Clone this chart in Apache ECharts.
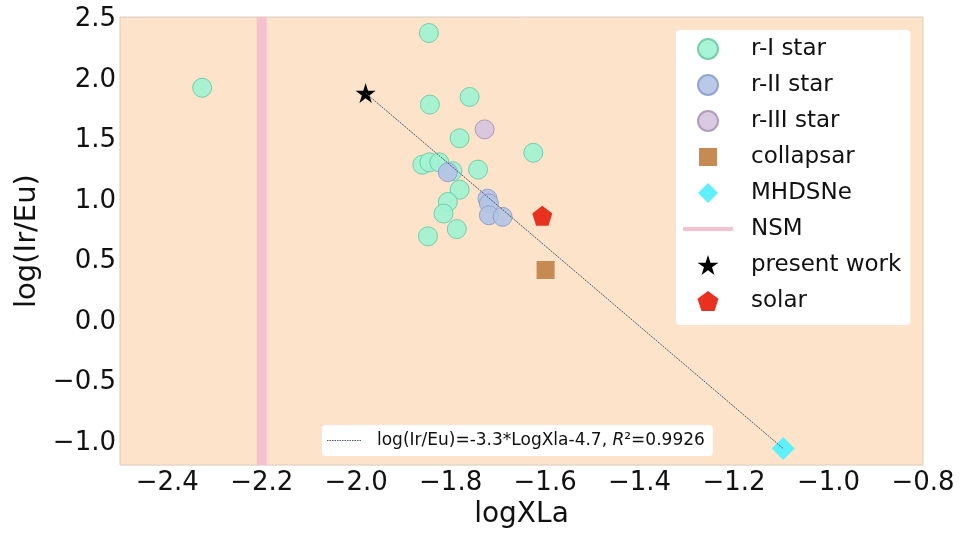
<!DOCTYPE html>
<html>
<head>
<meta charset="utf-8">
<script src="https://cdn.jsdelivr.net/npm/echarts@6/dist/echarts.min.js"></script>
<style>html,body{margin:0;padding:0;background:#fff}#c{width:960px;height:534px}</style>
</head>
<body>
<div id="c"></div>
<script>
// ---- data ----
const rI_x = [-2.326, -1.846, -1.844, -1.760, -1.781, -1.625, -1.742, -1.860, -1.845, -1.824, -1.796, -1.781, -1.806, -1.815, -1.787, -1.848];
const rI_y = [1.936, 2.388, 1.797, 1.860, 1.519, 1.399, 1.260, 1.300, 1.320, 1.320, 1.247, 1.094, 0.993, 0.897, 0.769, 0.709];
const rII_x = [-1.806, -1.722, -1.719, -1.719, -1.690];
const rII_y = [1.238, 1.020, 0.980, 0.883, 0.870];
const rIII_x = [-1.728];
const rIII_y = [1.592];
const collapsar_x = [-1.599];
const collapsar_y = [0.431];
const mhd_x = [-1.096];
const mhd_y = [-1.043];
const nsm_x = -2.2;
const present_x = [-1.980];
const present_y = [1.892];
const solar_x = [-1.606];
const solar_y = [0.879];
const fit_x = [-1.980, -1.096];
const fit_y = [1.892, -1.043];
const xRange = [-2.5, -0.8];
const yRange = [-1.18, 2.52];
const seriesNames = ['r-I star', 'r-II star', 'r-III star', 'collapsar', 'MHDSNe', 'NSM', 'present work', 'solar'];
const fitLabel = 'log(Ir/Eu)=-3.3*LogXla-4.7, R²=0.9926';

const zip = (xs, ys) => xs.map((x, i) => [x, ys[i]]);
const STAR = 'path://M0,-1 L0.2245,-0.309 L0.951,-0.309 L0.363,0.118 L0.588,0.809 L0,0.382 L-0.588,0.809 L-0.363,0.118 L-0.951,-0.309 L-0.2245,-0.309 Z';
const PENT = 'path://M0,-1 L0.951,-0.309 L0.588,0.809 L-0.588,0.809 L-0.951,-0.309 Z';
// legend icons padded to the 50x20 legend cell so they are not stretched
const ICON_SQ = 'path://M0,0 M50,20 M16,1 H34 V19 H16 Z';
const ICON_DIA = 'path://M0,0 M50,20 M25,-1 L36,10 L25,21 L14,10 Z';
const ICON_LINE = 'path://M0,0 M50,20 M0,8 H50 V12 H0 Z';
let dash = 'path://M0,0 M35,16';
for (let i = 0; i < 35; i += 2.5) dash += ' M' + i + ',7.5 H' + (i + 1.5) + ' V8.5 H' + i + ' Z';
const ICON_FIT = dash;
const FONT = 'DejaVu Sans';
const fmt = v => (Math.round(v * 10) / 10).toFixed(1).replace('-', '\u2212');

const chart = echarts.init(document.getElementById('c'));
chart.setOption({
  animation: false,
  backgroundColor: '#fff',
  grid: { left: 120, right: 37, top: 17, bottom: 65, show: true, backgroundColor: '#fce3c9', borderColor: '#d9cdbd', borderWidth: 1 },
  xAxis: {
    type: 'value', min: xRange[0], max: xRange[1], splitNumber: 8,
    name: 'logXLa', nameLocation: 'middle', nameGap: 32,
    nameTextStyle: { fontFamily: FONT, fontSize: 28, color: '#111' },
    axisLine: { show: false }, axisTick: { show: false }, splitLine: { show: false },
    axisLabel: { fontFamily: FONT, fontSize: 26, color: '#111', margin: 5, formatter: fmt, showMinLabel: false, showMaxLabel: true }
  },
  yAxis: {
    type: 'value', min: yRange[0], max: yRange[1], splitNumber: 7,
    name: 'log(Ir/Eu)', nameLocation: 'middle', nameGap: 78,
    nameTextStyle: { fontFamily: FONT, fontSize: 29, color: '#111' },
    axisLine: { show: false }, axisTick: { show: false }, splitLine: { show: false },
    axisLabel: { fontFamily: FONT, fontSize: 26, color: '#111', margin: 4, formatter: fmt, showMinLabel: false, showMaxLabel: false }
  },
  legend: [{
    data: [
      { name: seriesNames[0], icon: 'circle' }, { name: seriesNames[1], icon: 'circle' }, { name: seriesNames[2], icon: 'circle' },
      { name: seriesNames[3], icon: ICON_SQ }, { name: seriesNames[4], icon: ICON_DIA }, { name: seriesNames[5], icon: ICON_LINE },
      { name: seriesNames[6], icon: STAR }, { name: seriesNames[7], icon: PENT }
    ],
    orient: 'vertical', left: 676, top: 30,
    padding: [7, 9, 12, 7], itemWidth: 50, itemHeight: 20, itemGap: 12,
    backgroundColor: '#ffffff', borderRadius: 4,
    textStyle: { fontFamily: FONT, fontSize: 23, color: '#111', lineHeight: 24, padding: [0, 0, 0, 13] }
  }, {
    data: [{ name: fitLabel, icon: ICON_FIT }],
    left: 322, top: 425, padding: [7, 8, 7, 5], itemWidth: 35, itemHeight: 16,
    backgroundColor: '#ffffff', borderRadius: 4,
    formatter: n => n.replace('R²', '{i|R}²'),
    textStyle: { fontFamily: FONT, fontSize: 17, color: '#111', padding: [0, 0, 0, 10],
      rich: { i: { fontFamily: FONT, fontSize: 17, fontStyle: 'italic', color: '#111' } } }
  }],
  series: [
    { name: seriesNames[5], type: 'line', symbol: 'none', data: [[nsm_x, yRange[0]], [nsm_x, yRange[1]]], lineStyle: { color: '#f4c2cf', width: 10 }, itemStyle: { color: '#f4c2cf' }, z: 1 },
    { name: seriesNames[0], type: 'scatter', symbol: 'circle', symbolSize: 19, data: zip(rI_x, rI_y), itemStyle: { color: '#9ef3d3', borderColor: '#6cc9a5', borderWidth: 1, opacity: 0.9 }, z: 2 },
    { name: seriesNames[1], type: 'scatter', symbol: 'circle', symbolSize: 19, data: zip(rII_x, rII_y), itemStyle: { color: '#b3c3e6', borderColor: '#8b9dcc', borderWidth: 1, opacity: 0.9 }, z: 3 },
    { name: seriesNames[2], type: 'scatter', symbol: 'circle', symbolSize: 19, data: zip(rIII_x, rIII_y), itemStyle: { color: '#d6c3e0', borderColor: '#a895b8', borderWidth: 1, opacity: 0.9 }, z: 3 },
    { name: seriesNames[3], type: 'scatter', symbol: 'rect', symbolSize: 18, data: zip(collapsar_x, collapsar_y), itemStyle: { color: '#c68b52', opacity: 1 }, z: 3 },
    { name: seriesNames[4], type: 'scatter', symbol: 'diamond', symbolSize: 23, data: zip(mhd_x, mhd_y), itemStyle: { color: '#5ef0fb', opacity: 1 }, z: 3 },
    { name: seriesNames[6], type: 'scatter', symbol: STAR, symbolSize: 20, data: zip(present_x, present_y), itemStyle: { color: '#000', opacity: 1 }, z: 4 },
    { name: seriesNames[7], type: 'scatter', symbol: PENT, symbolSize: 20, data: zip(solar_x, solar_y), itemStyle: { color: '#e8311f', opacity: 1 }, z: 3 },
    { name: fitLabel, type: 'line', symbol: 'none', data: zip(fit_x, fit_y), lineStyle: { color: '#4f5a78', width: 1, type: [2, 1] }, itemStyle: { color: '#4f5a78' }, z: 5 }
  ]
});
</script>
</body>
</html>
